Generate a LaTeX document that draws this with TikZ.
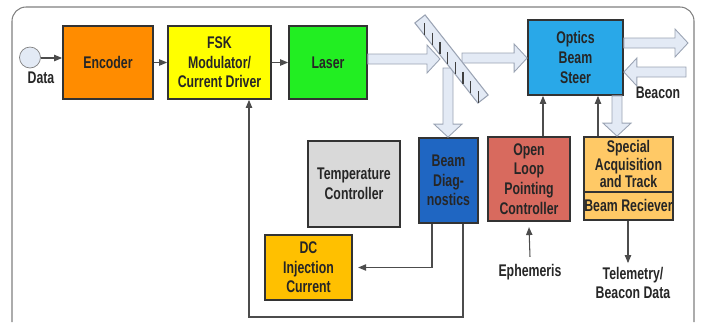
\documentclass[tikz,border=0pt]{standalone}
\usepackage{fontspec}
\setmainfont[FakeStretch=0.73]{Liberation Sans}
\usepackage{tikz}
\usetikzlibrary{positioning,arrows.meta,calc}
\definecolor{encfill}{HTML}{FF8C00}
\definecolor{fskfill}{HTML}{FFFF00}
\definecolor{lasfill}{HTML}{22EE22}
\definecolor{optfill}{HTML}{29A8E8}
\definecolor{bdfill}{HTML}{1F66C2}
\definecolor{olfill}{HTML}{D86A5E}
\definecolor{sptfill}{HTML}{FFC966}
\definecolor{tmpfill}{HTML}{D9D9D9}
\definecolor{dcfill}{HTML}{FFC000}
\definecolor{beamfill}{HTML}{E3EAF5}
\definecolor{beamline}{HTML}{9AA3B3}
% hollow optical beam from #1 to tip #2
\newcommand{\beam}[2]{%
  \path (#1) coordinate (bA) (#2) coordinate (bB);
  \path ($(bB)!0.26cm!(bA)$) coordinate (bH);
  \draw[beam] ($(bA)!0.1cm!90:(bB)$) -- ($(bH)!0.1cm!-90:(bA)$) -- ($(bH)!0.28cm!-90:(bA)$)
    -- (bB) -- ($(bH)!0.28cm!90:(bA)$) -- ($(bH)!0.1cm!90:(bA)$) -- ($(bA)!0.1cm!-90:(bB)$) -- cycle;}

\begin{document}
\begin{tikzpicture}[x=0.02cm,y=-0.02cm,
    every node/.style={font=\bfseries\fontsize{9.6}{11.2}\selectfont,text=black!85},
    blk/.style={draw=black!80,line width=1pt,align=center,inner sep=1pt},
    sig/.style={draw=black!70,line width=0.6pt,-{Triangle[length=4.5pt,width=3.6pt]}},
    beam/.style={draw=beamline,fill=beamfill,line width=0.5pt,line join=miter},
    lbl/.style={align=center,inner sep=2pt}]
  \useasboundingbox (0,0) rectangle (701,322);
  \draw[gray,line width=0.6pt,rounded corners=8] (12,322) -- (12,7) -- (694,7) -- (694,322);

  % top row
  \node[circle,draw=gray,fill=beamfill,minimum size=0.42cm,inner sep=0pt] (data) at (30,57.5) {};
  \node[lbl,below=0pt of data,xshift=0.22cm] (datal) {Data};
  \node[blk,fill=encfill,minimum width=1.8cm,minimum height=1.46cm] (enc) at (108,62.5) {Encoder};
  \node[blk,fill=fskfill,minimum width=2.06cm,minimum height=1.46cm] (fsk) at (219.5,62.5) {FSK\\Modulator/\\Current Driver};
  \node[blk,fill=lasfill,minimum width=1.56cm,minimum height=1.46cm] (laser) at (328,62.5) {Laser};
  \node[blk,fill=optfill,minimum width=1.9cm,minimum height=1.5cm] (optics) at (575.5,57.5) {Optics\\Beam\\Steer};
  \node[lbl] (beacon) at (658,93) {Beacon};

  % lower row
  \node[blk,fill=tmpfill,minimum width=1.84cm,minimum height=1.72cm] (temp) at (354,184) {Temperature\\Controller};
  \node[blk,fill=bdfill,minimum width=1.18cm,minimum height=1.7cm] (bd) at (448.5,180.5) {Beam\\Diag-\\nostics};
  \node[blk,fill=olfill,minimum width=1.64cm,minimum height=1.68cm] (ol) at (529,179) {Open\\Loop\\Pointing\\Controller};
  \node[blk,fill=sptfill,minimum width=1.78cm,minimum height=1.66cm] (spt) at (628.5,178.5) {};
  \draw[black!80,line width=0.8pt] (spt.west |- 0,192) -- (spt.east |- 0,192);
  \node[lbl,font=\bfseries\fontsize{9.6}{10}\selectfont] (sptA) at (628.5,164) {Special\\Acquisition\\and Track};
  \node[lbl] (sptB) at (628.5,205) {Beam Reciever};
  \node[blk,fill=dcfill,minimum width=1.74cm,minimum height=1.3cm] (dc) at (308.5,267.5) {DC\\Injection\\Current};
  \node[lbl,inner sep=4pt] (eph) at (530,272) {Ephemeris};
  \node[lbl] (tel) at (633,283) {Telemetry/\\Beacon Data};

  % signal lines
  \draw[sig] (data.east |- 0,58) -- (enc.west |- 0,58);
  \draw[sig] (enc) -- (fsk);
  \draw[sig] (fsk) -- (laser);
  \coordinate (olx) at (543,0);
  \coordinate (sptx) at (598,0);
  \coordinate (bdl) at (432,0);
  \coordinate (bdr) at (463,0);
  \coordinate (fbx) at (249,0);
  \draw[sig] (ol.north -| olx) -- (optics.south -| olx);
  \draw[sig] (spt.north -| sptx) -- (optics.south -| sptx);
  \draw[sig] (eph.north) -- ([yshift=-3pt]ol.south);
  \draw[sig] (spt.south -| 628,0) -- (tel.north -| 628,0);
  \draw[sig,shorten >=3pt] (bd.south -| bdl) |- (dc.east);
  \draw[sig] (bd.south -| bdr) -- (bdr |- 0,317) -| (fsk.south -| fbx);

  % optical beams
  \coordinate (hit) at (448,59);
  \coordinate (hitR) at (462,58);
  \coordinate (hitD) at (448,68);
  \coordinate (outT) at (688,43);
  \coordinate (bcnS) at (686,72);
  \coordinate (sx) at (617,0);
  \beam{laser.east |- hit}{$(hit)+(-8,0)$}
  \beam{hitR}{optics.west |- hitR}
  \beam{hitD}{bd.north -| hitD}
  \beam{optics.east |- outT}{outT}
  \beam{bcnS}{optics.east |- bcnS}
  \beam{optics.south -| sx}{spt.north -| sx}

  % beam splitter
  \node[draw=beamline,fill=beamfill,line width=0.6pt,rotate=-51.8,minimum width=2.04cm,minimum height=0.26cm,inner sep=0pt] (mir) at (451.5,59) {};
  \foreach \t in {0.08,0.2,...,0.92}
    \draw[black!75,line width=0.8pt] ($(mir.west)!\t!(mir.east)$) ++(0,-2) -- ++(0,12);
\end{tikzpicture}
\end{document}
